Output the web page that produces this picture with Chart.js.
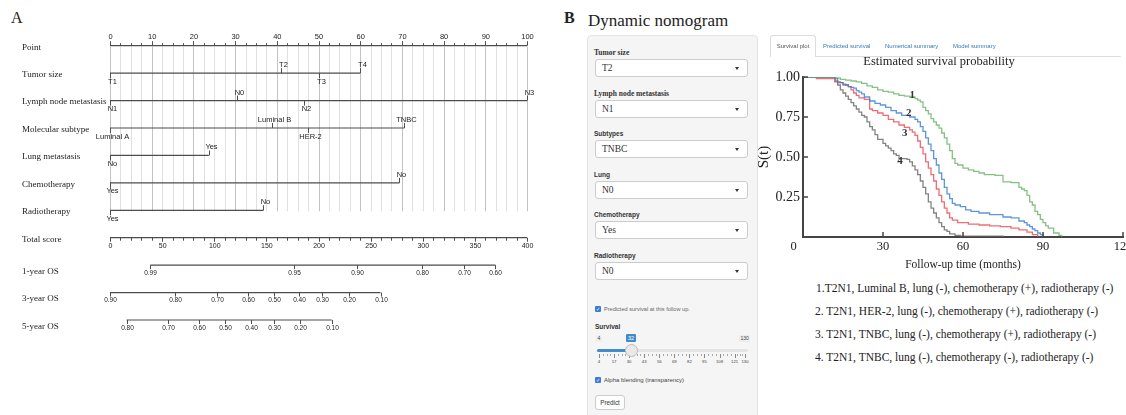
<!DOCTYPE html>
<html>
<head>
<meta charset="utf-8">
<title>Nomogram and dynamic nomogram</title>
<script src="https://cdn.jsdelivr.net/npm/chart.js@4.4.1/dist/chart.umd.min.js"></script>
<style>
  html, body { margin: 0; padding: 0; background: #fff; }
  body { position: relative; width: 1126px; height: 415px; overflow: hidden;
         font-family: 'Liberation Serif', 'Times New Roman', serif; color: #222; }
  .abs { position: absolute; white-space: nowrap; }
  .sans { font-family: 'Liberation Sans', Arial, sans-serif; }
  .well { left: 587px; top: 35px; width: 169px; height: 400px; background: #f5f5f5;
          border: 1px solid #e3e3e3; border-radius: 4px; }
  .sel { width: 151px; height: 16px; background: #fff; border: 1px solid #ccc; border-radius: 3px;
         font-size: 9.5px; line-height: 16px; color: #333; }
  .sel .val { position: absolute; left: 6px; top: 0; }
  .caret { position: absolute; right: 8px; top: 7px; width: 0; height: 0;
           border-left: 2.5px solid transparent; border-right: 2.5px solid transparent; border-top: 3px solid #333; }
  .chk { width: 6px; height: 6px; background: #3a7bd5; border-radius: 1px; color: #fff;
         font-size: 5px; line-height: 6px; text-align: center; }
</style>
</head>
<body>
<div class="abs" style="left:11px;top:8px;font-size:16px;line-height:20px;">A</div>
<div class="abs" style="left:564px;top:8px;font-size:16px;line-height:20px;font-weight:bold;">B</div>
<div class="abs" style="left:588px;top:11px;font-size:17px;line-height:20px;">Dynamic nomogram</div>

<canvas id="nomogram" class="abs" width="560" height="415" style="left:0;top:0;width:560px;height:415px;"></canvas>
<div class="abs well"></div>
<canvas id="survival" class="abs" width="392" height="224" style="left:755px;top:52px;width:392px;height:224px;"></canvas>

<script>
// ---------- panel A: nomogram ----------
const rowNames = ['Point', 'Tumor size', 'Lymph node metastasis', 'Molecular subtype', 'Lung metastasis',
  'Chemotherapy', 'Radiotherapy', 'Total score', '1-year OS', '3-year OS', '5-year OS'];

const pointTicks = [0, 10, 20, 30, 40, 50, 60, 70, 80, 90, 100];

const tumorLevels = ['T1', 'T2', 'T3', 'T4'];
const tumorPoints = [0, 41, 50, 60];
const nodeLevels = ['N1', 'N0', 'N2', 'N3'];
const nodePoints = [0, 30.5, 46.5, 100];
const subtypeLevels = ['Luminal A', 'Luminal B', 'HER-2', 'TNBC'];
const subtypePoints = [0, 38.8, 47.4, 70.6];
const lungLevels = ['No', 'Yes'];
const lungPoints = [0, 23.7];
const chemoLevels = ['Yes', 'No'];
const chemoPoints = [0, 69.4];
const radioLevels = ['Yes', 'No'];
const radioPoints = [0, 36.8];

const totalTicks = [0, 50, 100, 150, 200, 250, 300, 350, 400];

const os1Labels = ['0.99', '0.95', '0.90', '0.80', '0.70', '0.60'];
const os1Scores = [38.7, 176.3, 236.9, 299.6, 340, 369.7];
const os3Labels = ['0.90', '0.80', '0.70', '0.60', '0.50', '0.40', '0.30', '0.20', '0.10'];
const os3Scores = [0, 62, 102.5, 132.4, 157.7, 181.3, 203.6, 229, 259.5];
const os5Labels = ['0.80', '0.70', '0.60', '0.50', '0.40', '0.30', '0.20', '0.10'];
const os5Scores = [15.9, 55.6, 85.6, 110.6, 134.8, 157.4, 182, 212.7];

// ---------- panel B: survival curves ----------
const km1Times = [0, 10, 12, 14, 16, 18, 20, 22, 24, 26, 28, 30, 32, 34, 36, 38, 40, 42, 43, 44, 45, 46, 47, 48, 49, 50, 51, 52, 53, 54, 55, 56, 57, 58, 60, 62, 64, 66, 68, 72, 75, 78, 81, 82, 83, 84, 85, 86, 87, 88, 89, 90, 91, 92, 94, 96, 97];
const km1Surv = [1, 1, 0.995, 0.985, 0.98, 0.975, 0.97, 0.96, 0.945, 0.935, 0.92, 0.91, 0.905, 0.895, 0.885, 0.88, 0.875, 0.865, 0.855, 0.845, 0.81, 0.79, 0.77, 0.74, 0.72, 0.70, 0.68, 0.65, 0.62, 0.58, 0.54, 0.49, 0.46, 0.45, 0.43, 0.42, 0.41, 0.40, 0.39, 0.385, 0.345, 0.34, 0.31, 0.30, 0.29, 0.26, 0.22, 0.20, 0.16, 0.14, 0.11, 0.09, 0.07, 0.055, 0.025, 0.01, 0];
const km2Times = [0, 11, 12, 13, 14, 15, 16, 17, 18, 19, 20, 21, 22, 23, 25, 27, 29, 31, 33, 35, 37, 40, 42, 43, 44, 45, 46, 47, 48, 49, 50, 51, 52, 53, 54, 55, 56, 57, 59, 61, 63, 66, 70, 75, 78, 81, 83, 84, 85, 86, 87, 88, 89, 90];
const km2Surv = [1, 1, 0.99, 0.97, 0.965, 0.955, 0.95, 0.94, 0.935, 0.93, 0.915, 0.905, 0.895, 0.875, 0.85, 0.835, 0.825, 0.81, 0.79, 0.775, 0.76, 0.75, 0.735, 0.72, 0.69, 0.66, 0.62, 0.58, 0.54, 0.49, 0.45, 0.40, 0.36, 0.31, 0.27, 0.24, 0.21, 0.20, 0.19, 0.17, 0.16, 0.15, 0.14, 0.125, 0.12, 0.10, 0.09, 0.075, 0.065, 0.05, 0.04, 0.025, 0.015, 0];
const km3Times = [0, 5, 11, 12, 13, 15, 17, 18, 19, 20, 21, 23, 25, 26, 28, 30, 32, 34, 36, 38, 40, 41, 42, 43, 44, 45, 46, 47, 48, 49, 50, 51, 52, 53, 54, 55, 56, 58, 62, 66, 70, 74, 78, 81, 84, 86, 88];
const km3Surv = [1, 0.99, 0.99, 0.975, 0.965, 0.95, 0.94, 0.92, 0.90, 0.885, 0.87, 0.86, 0.80, 0.79, 0.775, 0.76, 0.735, 0.72, 0.70, 0.685, 0.67, 0.655, 0.635, 0.60, 0.56, 0.52, 0.47, 0.43, 0.39, 0.35, 0.30, 0.26, 0.22, 0.18, 0.15, 0.12, 0.105, 0.09, 0.08, 0.075, 0.07, 0.065, 0.055, 0.045, 0.03, 0.015, 0];
const km4Times = [0, 11, 12, 13, 14, 15, 16, 17, 18, 19, 20, 21, 22, 23, 24, 25, 26, 27, 28, 30, 31, 32, 33, 34, 35, 36, 39, 40, 41, 42, 43, 44, 45, 46, 47, 48, 49, 50, 51, 52, 53, 54, 55, 57, 59, 75];
const km4Surv = [1, 1, 0.97, 0.95, 0.92, 0.90, 0.88, 0.86, 0.84, 0.82, 0.80, 0.78, 0.76, 0.75, 0.72, 0.69, 0.67, 0.64, 0.61, 0.585, 0.57, 0.555, 0.54, 0.52, 0.51, 0.49, 0.485, 0.47, 0.445, 0.42, 0.39, 0.35, 0.31, 0.27, 0.22, 0.18, 0.15, 0.12, 0.09, 0.065, 0.045, 0.035, 0.02, 0.01, 0.005, 0];

const kmXTicks = [0, 30, 60, 90, 120];
const kmYTicks = [0.25, 0.5, 0.75, 1];
const curveTags = ['1', '2', '3', '4'];
const curveTagT = [41, 39.7, 38.2, 36.4];
const curveTagS = [0.887, 0.777, 0.65, 0.475];

const kmLegend = [
  '1.T2N1, Luminal B, lung (-), chemotherapy (+), radiotherapy (-)',
  '2. T2N1, HER-2, lung (-), chemotherapy (+), radiotherapy (-)',
  '3. T2N1, TNBC, lung (-), chemotherapy (+), radiotherapy (-)',
  '4. T2N1, TNBC, lung (-), chemotherapy (-), radiotherapy (-)'
];

// ---------- shiny-like input panel ----------
const inputLabels = ['Tumor size', 'Lymph node metastasis', 'Subtypes', 'Lung', 'Chemotherapy', 'Radiotherapy'];
const inputValues = ['T2', 'N1', 'TNBC', 'N0', 'Yes', 'N0'];
const tabNames = ['Survival plot', 'Predicted survival', 'Numerical summary', 'Model summary'];
const sliderTicks = [4, 17, 30, 43, 56, 69, 82, 95, 108, 121, 130];
const sliderValue = 32;

function place(text, css, cls) {
  const el = document.createElement('div');
  el.className = 'abs' + (cls ? ' ' + cls : '');
  el.style.cssText += css;
  if (text) el.textContent = text;
  document.body.appendChild(el);
  return el;
}

inputLabels.forEach(function (lab, i) {
  const top = 59 + i * 40.6;
  place(lab, 'left:594px;top:' + (top - 11) + 'px;line-height:10px;font-weight:bold;color:#333;' +
    (i < 2 ? 'font-size:7.5px;' : 'font-size:6.5px;'), i < 2 ? '' : 'sans');
  const box = place('', 'left:595px;top:' + top + 'px;', 'sel');
  const v = document.createElement('span');
  v.className = 'val';
  v.textContent = inputValues[i];
  box.appendChild(v);
  const c = document.createElement('div');
  c.className = 'caret';
  box.appendChild(c);
});

place('✓', 'left:595px;top:306px;', 'chk sans');
place('Predicted survival at this follow up.', 'left:604px;top:305px;font-size:5.6px;line-height:8px;color:#666;', 'sans');
place('Survival', 'left:595px;top:322px;font-size:6.5px;line-height:10px;font-weight:bold;color:#333;', 'sans');

const sliderX = v => 599 + (v - 4) * 1.159;
place('4', 'left:596px;top:335px;font-size:5px;line-height:7px;padding:0 1.5px;background:#eee;color:#444;', 'sans');
place('130', 'left:739px;top:335px;font-size:5px;line-height:7px;padding:0 1.5px;background:#eee;color:#444;', 'sans');
place(String(sliderValue), 'left:' + (sliderX(sliderValue) - 5) + 'px;top:334px;font-size:5.5px;line-height:8px;padding:0 1.5px;background:#428bca;color:#fff;border-radius:1px;', 'sans');
place('', 'left:597px;top:349px;width:151px;height:3px;background:#e4e4e4;border-radius:2px;');
place('', 'left:597px;top:349px;width:' + (sliderX(sliderValue) - 597) + 'px;height:3px;background:#428bca;border-radius:2px;');
for (let k = 0; k < sliderTicks.length; k++) {
  const v = sliderTicks[k];
  place('', 'left:' + sliderX(v) + 'px;top:354px;width:0.7px;height:4px;background:#888;');
  place(String(v), 'left:' + (sliderX(v) - 6) + 'px;top:359px;width:12px;text-align:center;font-size:4.3px;line-height:5px;color:#444;', 'sans');
  if (k < sliderTicks.length - 1) {
    const next = sliderTicks[k + 1];
    for (let m = 1; m < 4; m++) {
      const mv = v + (next - v) * m / 4;
      place('', 'left:' + sliderX(mv) + 'px;top:354px;width:0.6px;height:2px;background:#aaa;');
    }
  }
}
place('', 'left:' + (sliderX(sliderValue) - 6) + 'px;top:344px;width:11px;height:11px;border-radius:50%;background:#e9e9e9;border:1px solid #bbb;');

place('✓', 'left:595px;top:377px;', 'chk sans');
place('Alpha blending (transparency)', 'left:604px;top:376px;font-size:6px;line-height:8px;color:#444;', 'sans');
place('Predict', 'left:595px;top:395px;width:28px;height:13px;line-height:13px;text-align:center;font-size:6.3px;background:#fff;border:1px solid #ccc;border-radius:3px;color:#333;', 'sans');

// tabs
place('', 'left:815px;top:56px;width:306px;height:1px;background:#ddd;');
place(tabNames[0], 'left:770px;top:35px;width:44px;height:21px;line-height:21px;text-align:center;font-size:6px;color:#555;background:#fff;border:1px solid #ddd;border-bottom:none;border-radius:3px 3px 0 0;', 'sans');
const tabLeft = [823, 885, 953];
for (let i = 1; i < tabNames.length; i++) {
  place(tabNames[i], 'left:' + tabLeft[i - 1] + 'px;top:42px;font-size:6px;line-height:8px;color:#337ab7;', 'sans');
}

kmLegend.forEach(function (txt, i) {
  place(txt, 'left:' + (i === 0 ? 816 : 815) + 'px;top:' + (281 + i * 23) + 'px;font-size:11.5px;line-height:14px;color:#222;');
});

// ---------- nomogram chart ----------
const predictors = [
  [tumorLevels, tumorPoints], [nodeLevels, nodePoints], [subtypeLevels, subtypePoints],
  [lungLevels, lungPoints], [chemoLevels, chemoPoints], [radioLevels, radioPoints]
];
const osRows = [[os1Labels, os1Scores], [os3Labels, os3Scores], [os5Labels, os5Scores]];
const lineColor = '#4d4d4d';

const rowLines = [];
function addRow(row, from, to, axisId) {
  rowLines.push({
    data: [{ x: from, y: row }, { x: to, y: row }],
    xAxisID: axisId,
    borderColor: lineColor,
    borderWidth: 1.2,
    pointRadius: 0,
    clip: false
  });
}
addRow(0, pointTicks[0], pointTicks[pointTicks.length - 1], 'x');
predictors.forEach(function (p, k) {
  addRow(k + 1, Math.min.apply(null, p[1]), Math.max.apply(null, p[1]), 'x');
});
addRow(7, totalTicks[0], totalTicks[totalTicks.length - 1], 'x2');
osRows.forEach(function (r, k) {
  addRow(8 + k, Math.min.apply(null, r[1]), Math.max.apply(null, r[1]), 'x2');
});

function seg(ctx, x1, y1, x2, y2) {
  ctx.beginPath();
  ctx.moveTo(x1, y1);
  ctx.lineTo(x2, y2);
  ctx.stroke();
}
const crisp = v => Math.round(v) + 0.5;

const nomogramPlugin = {
  id: 'nomogram',
  beforeDatasetsDraw(chart) {
    const { ctx } = chart;
    const { x, y } = chart.scales;
    const top = y.getPixelForValue(0) + 1;
    const bottom = y.getPixelForValue(6) + 1;
    ctx.save();
    ctx.lineWidth = 1;
    for (let p = 0; p <= 100; p += 2.5) {
      ctx.strokeStyle = p % 10 === 0 ? '#c2c2c2' : '#e0e0e0';
      const px = crisp(x.getPixelForValue(p));
      seg(ctx, px, top, px, bottom);
    }
    ctx.restore();
  },
  afterDatasetsDraw(chart) {
    const { ctx } = chart;
    const { x, x2, y } = chart.scales;
    const rowY = i => y.getPixelForValue(i);
    ctx.save();
    ctx.strokeStyle = lineColor;
    ctx.lineWidth = 1;
    ctx.fillStyle = '#222';
    ctx.textAlign = 'center';
    ctx.textBaseline = 'middle';

    // point axis
    const y0 = rowY(0);
    for (let p = 0; p <= 100; p += 2.5) {
      const px = crisp(x.getPixelForValue(p));
      seg(ctx, px, y0, px, y0 - (p % 10 === 0 ? 4.5 : 2.5));
    }
    ctx.font = '7.5px "Liberation Sans", Arial, sans-serif';
    pointTicks.forEach(p => ctx.fillText(String(p), x.getPixelForValue(p) + 0.5, y0 - 8.5));

    // predictors
    predictors.forEach(function (pr, k) {
      const levels = pr[0], pts = pr[1];
      const ry = rowY(k + 1);
      const order = pts.map((p, i) => i).sort((a, b) => pts[a] - pts[b]);
      order.forEach(function (idx, rank) {
        const px = crisp(x.getPixelForValue(pts[idx]));
        const up = rank % 2 === 1;
        seg(ctx, px, ry, px, ry + (up ? -5 : 5));
        ctx.fillText(levels[idx], px + 2, ry + (up ? -8 : 8.5));
      });
    });

    // total score
    const y7 = rowY(7);
    for (let s = 0; s <= 400; s += 10) {
      const px = crisp(x2.getPixelForValue(s));
      seg(ctx, px, y7, px, y7 + (s % 50 === 0 ? 4 : 3));
    }
    ctx.font = '7px "Liberation Sans", Arial, sans-serif';
    totalTicks.forEach(s => ctx.fillText(String(s), x2.getPixelForValue(s) + 0.5, y7 + 8.5));

    // overall survival rows
    ctx.font = '6.5px "Liberation Sans", Arial, sans-serif';
    osRows.forEach(function (r, k) {
      const ry = rowY(8 + k);
      r[1].forEach(function (s, i) {
        const px = crisp(x2.getPixelForValue(s));
        seg(ctx, px, ry, px, ry + 4);
        ctx.fillText(r[0][i], px, ry + 8);
      });
    });

    // row names
    ctx.font = '9px "Liberation Serif", "Times New Roman", serif';
    ctx.textAlign = 'left';
    rowNames.forEach((name, i) => ctx.fillText(name, 22, rowY(i) + (i >= 8 ? 6.5 : 1.5)));
    ctx.restore();
  }
};

new Chart(document.getElementById('nomogram'), {
  type: 'line',
  data: { datasets: rowLines },
  options: {
    responsive: false,
    animation: false,
    devicePixelRatio: 1,
    events: [],
    layout: { padding: { left: 110, right: 33, top: 45.7, bottom: 95 } },
    plugins: { legend: { display: false }, tooltip: { enabled: false } },
    scales: {
      x: { type: 'linear', min: 0, max: 100, display: false },
      x2: { type: 'linear', axis: 'x', min: 0, max: 400, display: false },
      y: { type: 'linear', min: 0, max: 10, reverse: true, display: false }
    }
  },
  plugins: [nomogramPlugin]
});

// ---------- survival chart ----------
const serif = 'Liberation Serif';
const curves = [
  { t: km1Times, s: km1Surv, color: 'rgba(92, 172, 92, 0.75)' },
  { t: km2Times, s: km2Surv, color: 'rgba(52, 124, 204, 0.8)' },
  { t: km3Times, s: km3Surv, color: 'rgba(232, 72, 80, 0.8)' },
  { t: km4Times, s: km4Surv, color: 'rgba(100, 100, 100, 0.8)' }
];

const kmPlugin = {
  id: 'kmExtras',
  afterDraw(chart) {
    const { ctx, chartArea } = chart;
    const { x, y } = chart.scales;
    ctx.save();
    ctx.strokeStyle = '#444';
    ctx.lineWidth = 1.5;
    kmXTicks.forEach(function (t) {
      if (t === 0) return;
      const px = x.getPixelForValue(t);
      seg(ctx, px, chartArea.bottom, px, chartArea.bottom - 5);
    });
    kmYTicks.forEach(function (s) {
      const py = y.getPixelForValue(s);
      seg(ctx, chartArea.left, py, chartArea.left + 5, py);
    });
    ctx.font = 'bold 11px "Liberation Serif", serif';
    ctx.fillStyle = '#333';
    ctx.textAlign = 'center';
    ctx.textBaseline = 'middle';
    curveTags.forEach((tag, i) => ctx.fillText(tag, x.getPixelForValue(curveTagT[i]), y.getPixelForValue(curveTagS[i])));
    ctx.restore();
  }
};

new Chart(document.getElementById('survival'), {
  type: 'line',
  data: {
    datasets: curves.map(c => ({
      data: c.t.map((t, i) => ({ x: t, y: c.s[i] })),
      borderColor: c.color,
      borderWidth: 1.3,
      stepped: true,
      pointRadius: 0,
      fill: false
    }))
  },
  options: {
    responsive: false,
    animation: false,
    devicePixelRatio: 1,
    events: [],
    layout: { padding: { left: 0, right: 24, top: 0, bottom: 0 } },
    plugins: {
      legend: { display: false },
      tooltip: { enabled: false },
      title: {
        display: true,
        text: 'Estimated survival probability',
        color: '#222',
        font: { family: serif, size: 12.5, weight: 'normal' },
        padding: { top: 2, bottom: 8 }
      }
    },
    scales: {
      x: {
        type: 'linear', min: 0, max: 120,
        afterFit(s) { s.height = 39; },
        grid: { display: false, drawTicks: false },
        border: { display: true, color: '#444', width: 2 },
        ticks: {
          stepSize: 30, padding: 2, color: '#222', maxRotation: 0, autoSkip: false,
          font: { family: serif, size: 12.5 },
          callback: v => (v === 0 ? '0      ' : String(v))
        },
        title: {
          display: true, text: 'Follow-up time (months)', color: '#222',
          font: { family: serif, size: 11.5 }, padding: { top: 0, bottom: 4 }
        }
      },
      y: {
        type: 'linear', min: 0, max: 1,
        afterFit(s) { s.width = 48; },
        grid: { display: false, drawTicks: false },
        border: { display: true, color: '#444', width: 2 },
        ticks: {
          stepSize: 0.25, padding: 3, color: '#222',
          font: { family: serif, size: 14 },
          callback: v => (v === 0 ? '' : Number(v).toFixed(2))
        },
        title: {
          display: true, text: 'S(t)', color: '#222',
          font: { family: serif, size: 15 }, padding: { top: 0, bottom: 0 }
        }
      }
    }
  },
  plugins: [kmPlugin]
});
</script>
</body>
</html>
